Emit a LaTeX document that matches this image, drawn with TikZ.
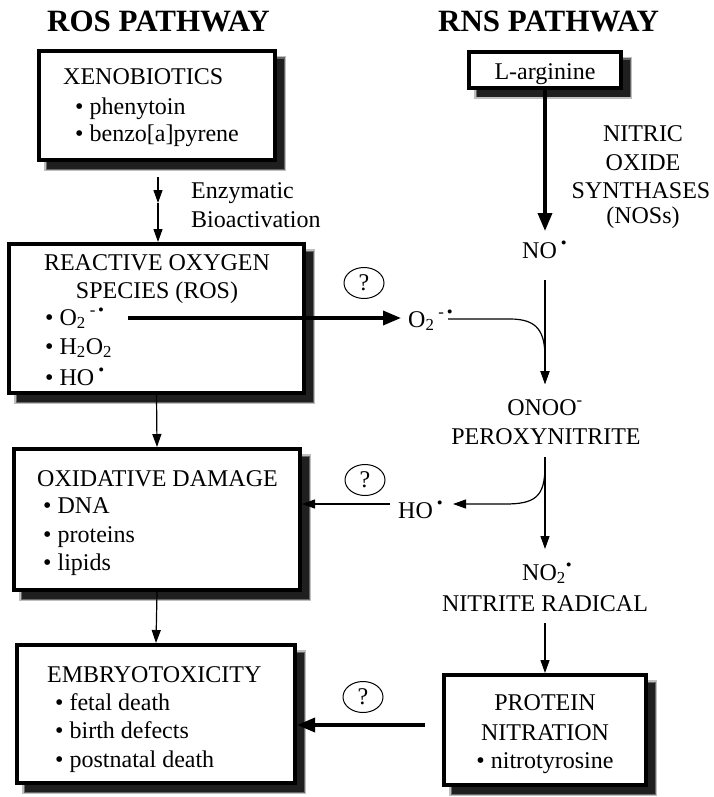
\documentclass[tikz,border=0pt]{standalone}
\usepackage{fontspec}
\setmainfont{Liberation Serif}
\usetikzlibrary{arrows.meta,shapes.geometric}
\newcommand{\rdot}{\textsuperscript{\textbullet}}
\begin{document}
\begin{tikzpicture}[x=1pt,y=-1pt,
  every node/.style={inner sep=0pt, font=\fontsize{24}{28}\selectfont},
  titletext/.style={font=\fontsize{31}{36}\selectfont\bfseries, anchor=base west},
  txt/.style={anchor=base west},
  ctxt/.style={anchor=base},
  box/.style={draw, line width=4pt, fill=white,
    preaction={fill=black!25, draw=black!25, line width=6pt, transform canvas={shift={(8pt,-8pt)}}},
    preaction={fill=black!60, draw=black!60, line width=3pt, transform canvas={shift={(8pt,-8pt)}}},
    preaction={fill=black!88, draw=black!88, line width=0.5pt, transform canvas={shift={(8pt,-8pt)}}}},
  thinarrow/.style={line width=1.2pt, -{Triangle[length=13pt,width=9pt]}},
  thickarrow/.style={line width=3.5pt, -{Triangle[length=18pt,width=14pt]}},
  qmark/.style={draw, ellipse, line width=1pt, minimum width=40pt, minimum height=31pt}]
\useasboundingbox (0,0) rectangle (713,797);

% titles
\node[titletext] (rostitle) at (47,32) {ROS PATHWAY};
\node[titletext] (rnstitle) at (438,32) {RNS PATHWAY};

% boxes
\node[box, minimum width=236pt, minimum height=109pt] (xeno) at (157,105.5) {};
\node[box, minimum width=295pt, minimum height=149pt] (ros) at (156.5,318.5) {};
\node[box, minimum width=286pt, minimum height=141pt] (oxid) at (157,519.5) {};
\node[box, minimum width=278pt, minimum height=138pt] (embryo) at (156,714) {};
\node[box, minimum width=152pt, minimum height=36pt] (larg) at (545,70) {};
\node[box, minimum width=202pt, minimum height=110pt] (prot) at (545,730) {};

% xenobiotics text
\node[txt] (xenoh) at (63,85) {XENOBIOTICS};
\node[txt] (xeno1) at (75,115) {\textbullet\ phenytoin};
\node[txt] (xeno2) at (75,142) {\textbullet\ benzo[a]pyrene};
\node[txt] (enz) at (191,198) {Enzymatic};
\node[txt] (bioact) at (191,227) {Bioactivation};

% ROS text
\node[ctxt] (rosh1) at (157,270) {REACTIVE OXYGEN};
\node[ctxt] (rosh2) at (157,298) {SPECIES (ROS)};
\node[txt] (ros1) at (45,325) {\textbullet\ O\textsubscript{2}\,\textsuperscript{-\,\textbullet}};
\node[txt] (ros2) at (45,354) {\textbullet\ H\textsubscript{2}O\textsubscript{2}};
\node[txt] (ros3) at (45,385) {\textbullet\ HO\,\rdot};

% oxidative damage text
\node[txt] (oxidh) at (37,486) {OXIDATIVE DAMAGE};
\node[txt] (oxid1) at (43,513) {\textbullet\ DNA};
\node[txt] (oxid2) at (43,542) {\textbullet\ proteins};
\node[txt] (oxid3) at (43,570) {\textbullet\ lipids};

% embryotoxicity text
\node[txt] (embh) at (47,682) {EMBRYOTOXICITY};
\node[txt] (emb1) at (55,710) {\textbullet\ fetal death};
\node[txt] (emb2) at (55,738) {\textbullet\ birth defects};
\node[txt] (emb3) at (55,767) {\textbullet\ postnatal death};

% RNS text
\node[ctxt] (largt) at (545,80) {L-arginine};
\node[ctxt] (nos1) at (643,142) {NITRIC};
\node[ctxt] (nos2) at (643,170) {OXIDE};
\node[ctxt] (nos3) at (641,198) {SYNTHASES};
\node[ctxt] (nos4) at (643,223) {(NOSs)};
\node[txt] (no) at (522,258) {NO\,\rdot};
\node[txt] (o2r) at (408,327) {O\textsubscript{2}\,\textsuperscript{-\,\textbullet}};
\node[ctxt] (onoo) at (545,415) {ONOO\textsuperscript{-}};
\node[ctxt] (peroxy) at (546,444) {PEROXYNITRITE};
\node[txt] (hor) at (398,518) {HO\,\rdot};
\node[txt] (no2) at (522,580) {NO\textsubscript{2}\textsuperscript{\textbullet}};
\node[ctxt] (nitrite) at (545,611) {NITRITE RADICAL};
\node[ctxt] (prot1) at (545,710) {PROTEIN};
\node[ctxt] (prot2) at (545,740) {NITRATION};
\node[ctxt] (prot3) at (545,768) {\textbullet\ nitrotyrosine};

% question marks
\node[qmark] (q1) at (364,283) {?};
\node[qmark] (q2) at (365,480) {?};
\node[qmark] (q3) at (363,697) {?};

% coordinates
\coordinate (bio) at (158,203);
\coordinate (xenoout) at (158,177);
\coordinate (o2start) at (128,318);
\coordinate (o2tip) at (401,318);
\coordinate (nostart) at (545,280);
\coordinate (j1) at (545,384);
\coordinate (o2curve) at (448,319);
\coordinate (perout) at (545,457);
\coordinate (branch) at (545,466);
\coordinate (hotip) at (453,504);
\coordinate (hostart) at (390,504);
\coordinate (no2tip) at (545,549);
\coordinate (nitout) at (545,623);
\coordinate (protout) at (425,725);

% ROS connectors
\draw[thinarrow] (xenoout) -- (bio);
\draw[thinarrow] (bio) -- (bio |- ros.north);
\draw[thinarrow] (ros.south) -- (oxid.north);
\draw[thinarrow] (oxid.south) -- (embryo.north);
\draw[thickarrow] (o2start) -- (o2tip);

% RNS connectors
\draw[thickarrow] (larg.south) -- (545,231);
\draw[thinarrow] (nostart) -- (j1);
\draw[thinarrow] (o2curve) -- (510,319) .. controls (538,319) and (545,332) .. (545,358) -- (j1);
\draw[thinarrow] (perout) -- (no2tip);
\draw[thinarrow] (branch) .. controls (545,497) and (535,504) .. (505,504) -- (hotip);
\draw[thinarrow] (hostart) -- (oxid.east |- hostart);
\draw[thinarrow] (nitout) -- (prot.north);
\draw[thickarrow] (protout) -- (embryo.east |- protout);
\end{tikzpicture}
\end{document}
